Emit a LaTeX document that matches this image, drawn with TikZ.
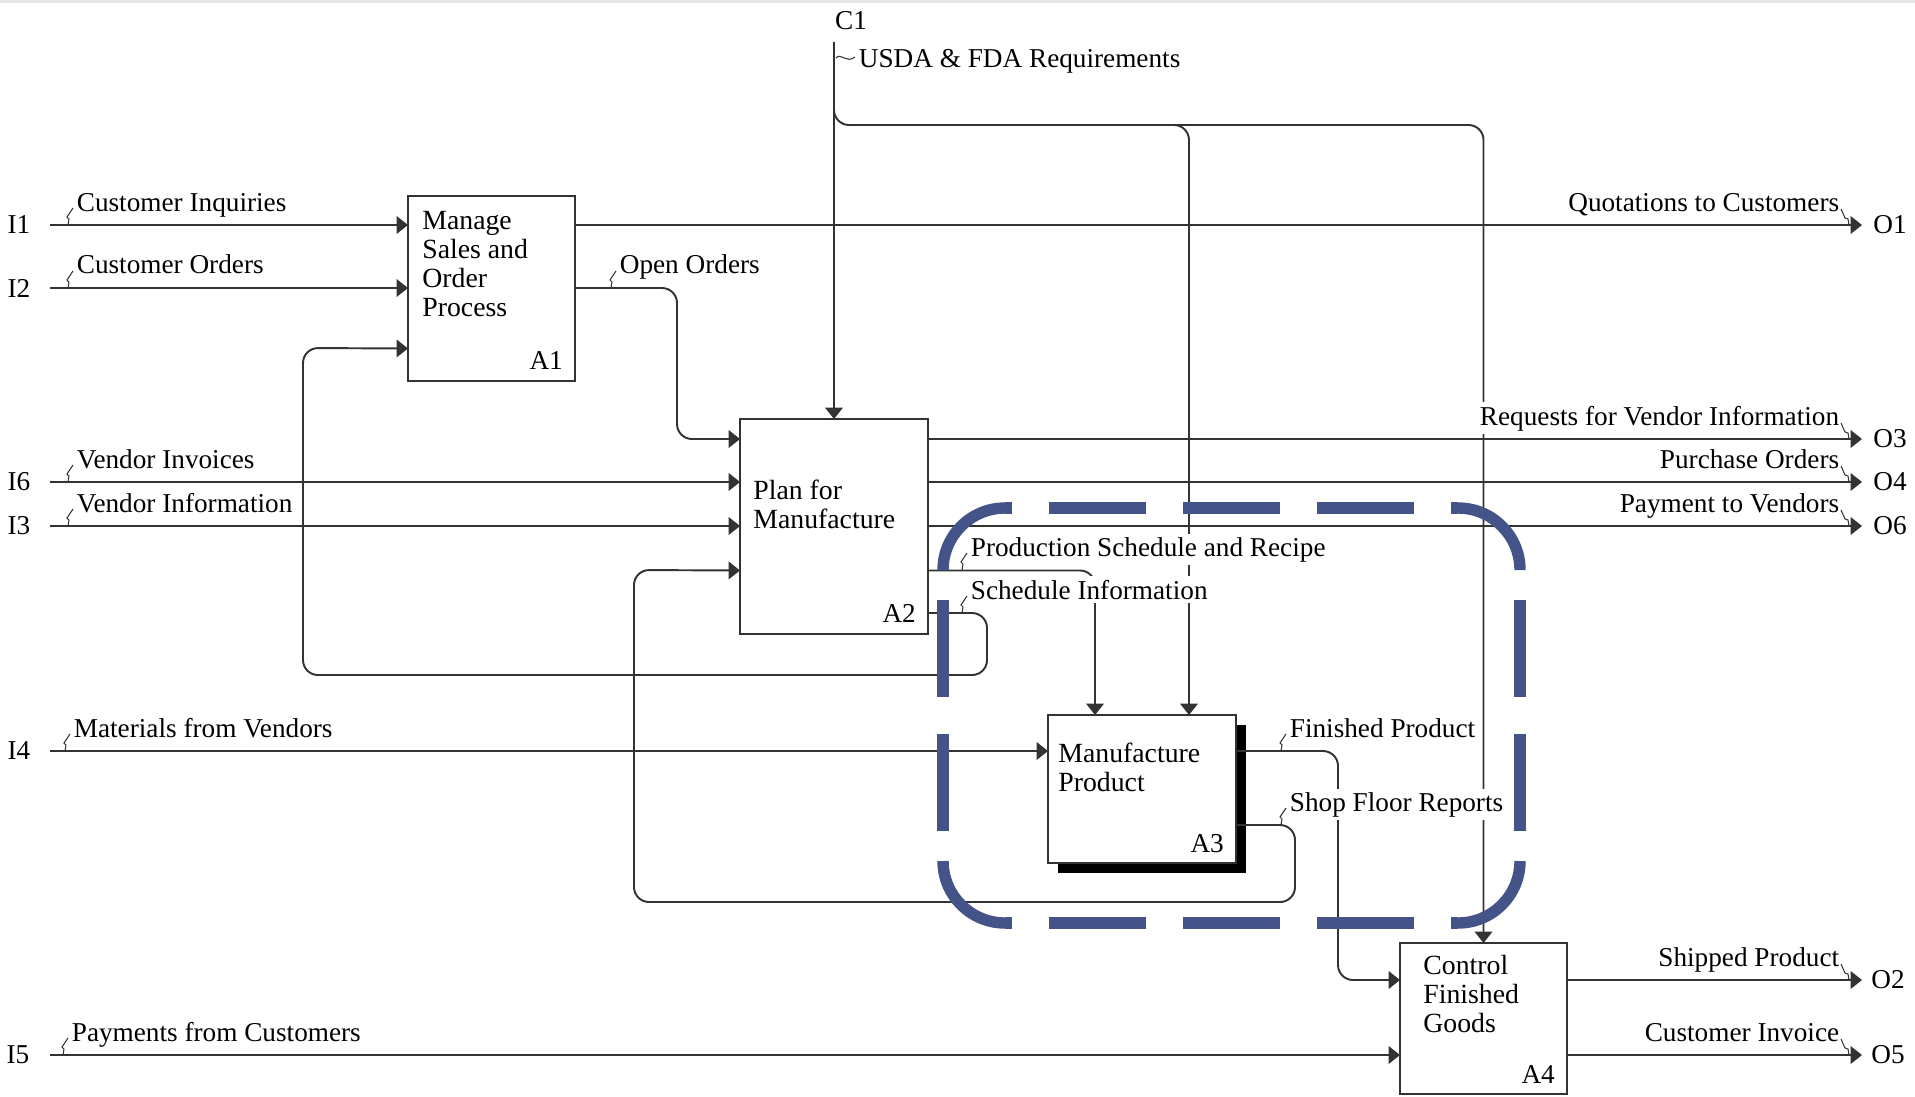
\documentclass[tikz,border=0pt]{standalone}
\usepackage{fontspec}
\setmainfont{Liberation Serif}
\usetikzlibrary{arrows.meta,shadows}
\definecolor{CBlue}{RGB}{68,84,136}
\colorlet{CLine}{black!80}
\tikzset{
  box/.style={draw=CLine, line width=1.1pt, fill=white, inner sep=0pt, outer sep=0pt},
  boxtext/.style={anchor=north west, align=left, inner sep=0pt, font=\fontsize{15.8}{16.5}\selectfont},
  flow/.style={draw=CLine, line width=1.1pt, rounded corners=0.3cm, -{Triangle[length=6.5pt, width=10pt]}},
  lbl/.style={fill=white, inner sep=2pt},
  squig/.style={draw=CLine, line width=0.6pt},
  focus/.style={draw=CBlue, line width=6.5pt},
  focusside/.style={focus, dash pattern=on 1.94cm off 0.74cm, dash phase=#1},
}
\newcommand{\insquig}[1]{\draw[squig] #1 -- ++(1,-6) -- ++(-2,-2) -- ++(6,-9);}
\newcommand{\outsquig}[1]{\draw[squig] #1 -- ++(-1,-6) -- ++(-3,-1) -- ++(-4,-9);}

\begin{document}
\begin{tikzpicture}[x=0.02cm, y=-0.02cm, font=\fontsize{15.5}{16.5}\selectfont]
    \useasboundingbox (0,0) rectangle (1915,1096);
    \fill [black!10] (0,0) rectangle (1915,3);

    \node [box, minimum width=3.34cm, minimum height=3.70cm] (a1) at (491.5,288.5) {};
    \node [box, minimum width=3.76cm, minimum height=4.30cm] (a2) at (834,526.5) {};
    \node [box, minimum width=3.76cm, minimum height=2.96cm,
           drop shadow={shadow xshift=0.2cm, shadow yshift=-0.2cm, fill=black, opacity=1}] (a3) at (1142,789) {};
    \node [box, minimum width=3.34cm, minimum height=3.02cm] (a4) at (1483.5,1018.5) {};

    \node [boxtext] (a1t) at ([shift={(14,15)}]a1.north west) {Manage\\Sales and\\Order\\Process};
    \node [boxtext] (a2t) at ([shift={(13,61)}]a2.north west) {Plan for\\Manufacture};
    \node [boxtext] (a3t) at ([shift={(10,28)}]a3.north west) {Manufacture\\Product};
    \node [boxtext] (a4t) at ([shift={(23,12)}]a4.north west) {Control\\Finished\\Goods};
    \node [anchor=base east] (a1n) at ([shift={(-6,-11)}]a1.south east) {A1};
    \node [anchor=base east] (a2n) at ([shift={(-6,-11)}]a2.south east) {A2};
    \node [anchor=base east] (a3n) at ([shift={(-6,-11)}]a3.south east) {A3};
    \node [anchor=base east] (a4n) at ([shift={(-6,-11)}]a4.south east) {A4};

    \coordinate (i1) at (50,225);
    \coordinate (i2) at (50,288);
    \coordinate (i6) at (50,482);
    \coordinate (i3) at (50,526);
    \coordinate (i4) at (50,751);
    \coordinate (i5) at (50,1055);
    \node (ti1) at (19,225) {I1};
    \node (ti2) at (19,288) {I2};
    \node (ti6) at (19,482) {I6};
    \node (ti3) at (19,526) {I3};
    \node (ti4) at (19,751) {I4};
    \node (ti5) at (18,1055) {I5};
    \draw [flow] (i1) -- (i1 -| a1.west);
    \draw [flow] (i2) -- (i2 -| a1.west);
    \draw [flow] (i6) -- (i6 -| a2.west);
    \draw [flow] (i3) -- (i3 -| a2.west);
    \draw [flow] (i4) -- (i4 -| a3.west);
    \draw [flow] (i5) -- (i5 -| a4.west);

    \coordinate (o1) at (1862,225);
    \coordinate (o3) at (1862,439);
    \coordinate (o4) at (1862,482);
    \coordinate (o6) at (1862,526);
    \coordinate (o2) at (1862,980);
    \coordinate (o5) at (1862,1055);
    \node (to1) at (1890,225) {O1};
    \node (to3) at (1890,439) {O3};
    \node (to4) at (1890,482) {O4};
    \node (to6) at (1890,526) {O6};
    \node (to2) at (1888,980) {O2};
    \node (to5) at (1888,1055) {O5};
    \draw [flow] (a1.east |- o1) -- (o1);
    \draw [flow] (a2.east |- o3) -- (o3);
    \draw [flow] (a2.east |- o4) -- (o4);
    \draw [flow] (a2.east |- o6) -- (o6);
    \draw [flow] (a4.east |- o2) -- (o2);
    \draw [flow] (a4.east |- o5) -- (o5);

    \draw [flow] (a1.east |- i2) -- (677,288) -- (677,439) -- (a2.west |- o3);
    \draw [flow] ([yshift=-0.88cm]a2.east) -| ([xshift=-0.94cm]a3.north);
    \draw [flow] ([yshift=-1.73cm]a2.east) -- (987,613) -- (987,675) -- (303,675) -- (303,348) -- ([yshift=-1.2cm]a1.west);
    \draw [flow] (a3.east |- i4) -- (1338,751) -- (1338,980) -- (a4.west |- o2);
    \draw [flow] ([yshift=-0.72cm]a3.east) -- (1295,825) -- (1295,902) -- (634,902) -- (634,570) -- ([yshift=-0.88cm]a2.west);

    \node (tc1) at (851,21) {C1};
    \coordinate (c1) at (834,42);
    \draw [flow] (c1) -- (c1 |- a2.north);
    \draw [flow] (834,100) -- (834,125) -| (a4.north);
    \draw [flow] (1160,125) -| ([xshift=0.94cm]a3.north);

    \node [lbl, anchor=base west] (li1) at (73,211) {Customer Inquiries};
    \node [lbl, anchor=base west] (li2) at (73,273) {Customer Orders};
    \node [lbl, anchor=base west] (li6) at (73,468) {Vendor Invoices};
    \node [lbl, anchor=base west] (li3) at (73,512) {Vendor Information};
    \node [lbl, anchor=base west] (li4) at (70,737) {Materials from Vendors};
    \node [lbl, anchor=base west] (li5) at (68,1041) {Payments from Customers};
    \node [lbl, anchor=base west] (lc1) at (855,67) {USDA \& FDA Requirements};
    \node [lbl, anchor=base west] (lopen) at (616,273) {Open Orders};
    \node [lbl, anchor=base west] (lprod) at (967,556) {Production Schedule and Recipe};
    \node [lbl, anchor=base west] (lsched) at (967,599) {Schedule Information};
    \node [lbl, anchor=base west] (lfin) at (1286,737) {Finished Product};
    \node [lbl, anchor=base west] (lshop) at (1286,811) {Shop Floor Reports};
    \node [lbl, anchor=base east] (lo1) at (1843,211) {Quotations to Customers};
    \node [lbl, anchor=base east] (lo3) at (1843,425) {Requests for Vendor Information};
    \node [lbl, anchor=base east] (lo4) at (1843,468) {Purchase Orders};
    \node [lbl, anchor=base east] (lo6) at (1843,512) {Payment to Vendors};
    \node [lbl, anchor=base east] (lo2) at (1843,966) {Shipped Product};
    \node [lbl, anchor=base east] (lo5) at (1843,1041) {Customer Invoice};

    \insquig{(68,225)}
    \insquig{(68,288)}
    \insquig{(68,482)}
    \insquig{(68,526)}
    \insquig{(65,751)}
    \insquig{(63,1055)}
    \insquig{(611,288)}
    \insquig{(962,570)}
    \insquig{(962,613)}
    \insquig{(1281,751)}
    \insquig{(1281,825)}
    \outsquig{(1849,225)}
    \outsquig{(1849,439)}
    \outsquig{(1849,482)}
    \outsquig{(1849,526)}
    \outsquig{(1849,980)}
    \outsquig{(1849,1055)}
    \draw [squig] (836,58) .. controls (841,52) and (846,64) .. (855,57);

    \draw [focus, rounded corners=1.24cm] (943,570) -- (943,508) -- (1005,508);
    \draw [focus, rounded corners=1.24cm] (1458,508) -- (1520,508) -- (1520,570);
    \draw [focus, rounded corners=1.24cm] (1520,861) -- (1520,923) -- (1458,923);
    \draw [focus, rounded corners=1.24cm] (1005,923) -- (943,923) -- (943,861);
    \draw [focusside=1.8cm] (1005,508) -- (1458,508);
    \draw [focusside=2.08cm] (1520,570) -- (1520,861);
    \draw [focusside=1.8cm] (1458,923) -- (1005,923);
    \draw [focusside=2.08cm] (943,861) -- (943,570);
\end{tikzpicture}
\end{document}
